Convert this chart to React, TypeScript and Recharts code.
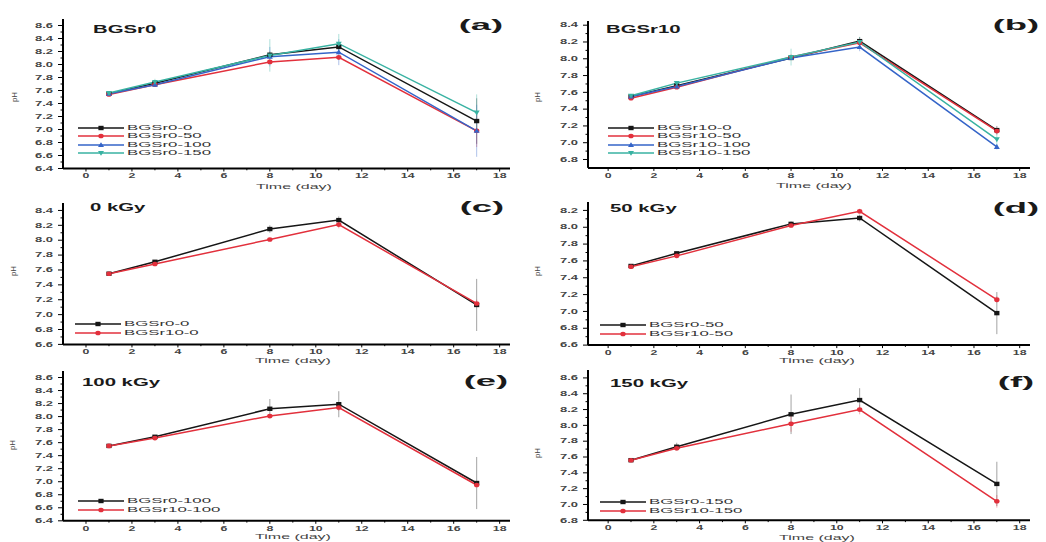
import { LineChart, Line, XAxis, YAxis, ErrorBar } from 'recharts'

const DAYS = [1, 3, 8, 11, 17]
const X_TICKS = [0, 2, 4, 6, 8, 10, 12, 14, 16, 18]

// pH readings per sample
const BGSR0_0 = [7.55, 7.71, 8.15, 8.27, 7.13]
const BGSR0_50 = [7.54, 7.69, 8.04, 8.11, 6.98]
const BGSR0_100 = [7.55, 7.69, 8.12, 8.19, 6.98]
const BGSR0_150 = [7.56, 7.73, 8.14, 8.32, 7.26]
const BGSR10_0 = [7.55, 7.68, 8.01, 8.21, 7.15]
const BGSR10_50 = [7.53, 7.66, 8.02, 8.19, 7.14]
const BGSR10_100 = [7.55, 7.67, 8.01, 8.14, 6.95]
const BGSR10_150 = [7.56, 7.71, 8.02, 8.2, 7.04]

// standard deviations
const ERR_BGSR0_0 = [0.01, 0.02, 0.05, 0.05, 0.35]
const ERR_BGSR0_50 = [0.01, 0.02, 0.03, 0.04, 0.25]
const ERR_BGSR0_100 = [0.01, 0.02, 0.15, 0.2, 0.4]
const ERR_BGSR0_150 = [0.01, 0.05, 0.25, 0.15, 0.28]
const ERR_BGSR10_0 = [0.01, 0.02, 0.02, 0.05, 0.05]
const ERR_BGSR10_50 = [0.01, 0.02, 0.02, 0.03, 0.04]
const ERR_BGSR10_100 = [0.01, 0.01, 0.02, 0.05, 0.03]
const ERR_BGSR10_150 = [0.01, 0.02, 0.1, 0.06, 0.08]

const TICKS_A = [6.4, 6.6, 6.8, 7.0, 7.2, 7.4, 7.6, 7.8, 8.0, 8.2, 8.4, 8.6]
const TICKS_B = [6.8, 7.0, 7.2, 7.4, 7.6, 7.8, 8.0, 8.2, 8.4]
const TICKS_C = [6.6, 6.8, 7.0, 7.2, 7.4, 7.6, 7.8, 8.0, 8.2, 8.4]
const TICKS_D = [6.6, 6.8, 7.0, 7.2, 7.4, 7.6, 7.8, 8.0, 8.2]
const TICKS_E = [6.4, 6.6, 6.8, 7.0, 7.2, 7.4, 7.6, 7.8, 8.0, 8.2, 8.4, 8.6]
const TICKS_F = [6.8, 7.0, 7.2, 7.4, 7.6, 7.8, 8.0, 8.2, 8.4, 8.6]

const BLACK = '#161616'
const RED = '#e2303c'
const BLUE = '#3464c8'
const TEAL = '#38b2a2'
const FONT = '"Liberation Sans", Arial, sans-serif'

type Shape = 'square' | 'circle' | 'up' | 'down'
interface Series { name: string; values: number[]; errors: number[] }
interface PanelLine { s: Series; color: string; shape: Shape }

const S = {
  r0_0: { name: 'BGSr0-0', values: BGSR0_0, errors: ERR_BGSR0_0 },
  r0_50: { name: 'BGSr0-50', values: BGSR0_50, errors: ERR_BGSR0_50 },
  r0_100: { name: 'BGSr0-100', values: BGSR0_100, errors: ERR_BGSR0_100 },
  r0_150: { name: 'BGSr0-150', values: BGSR0_150, errors: ERR_BGSR0_150 },
  r10_0: { name: 'BGSr10-0', values: BGSR10_0, errors: ERR_BGSR10_0 },
  r10_50: { name: 'BGSr10-50', values: BGSR10_50, errors: ERR_BGSR10_50 },
  r10_100: { name: 'BGSr10-100', values: BGSR10_100, errors: ERR_BGSR10_100 },
  r10_150: { name: 'BGSr10-150', values: BGSR10_150, errors: ERR_BGSR10_150 },
}

const TS = 5 // tick length
const TM = 5 // tick margin

const PANELS = [
  {
    tag: '(a)', title: 'BGSr0', majors: TICKS_A, domain: [6.4, 8.7], col: 0, plotTop: 18.5, plotBottom: 168,
    lines: [
      { s: S.r0_0, color: BLACK, shape: 'square' }, { s: S.r0_50, color: RED, shape: 'circle' },
      { s: S.r0_100, color: BLUE, shape: 'up' }, { s: S.r0_150, color: TEAL, shape: 'down' },
    ],
    titlePos: [93, 29], tagPos: [481, 25], phPos: [15, 97], timePos: [294, 187], legend: [78, 128, 8.3],
  },
  {
    tag: '(b)', title: 'BGSr10', majors: TICKS_B, domain: [6.7, 8.45], col: 1, plotTop: 20.8, plotBottom: 167.7,
    lines: [
      { s: S.r10_0, color: BLACK, shape: 'square' }, { s: S.r10_50, color: RED, shape: 'circle' },
      { s: S.r10_100, color: BLUE, shape: 'up' }, { s: S.r10_150, color: TEAL, shape: 'down' },
    ],
    titlePos: [606, 29], tagPos: [1016, 25], phPos: [538, 97], timePos: [814, 186], legend: [608, 128, 8.4],
  },
  {
    tag: '(c)', title: '0 kGy', majors: TICKS_C, domain: [6.6, 8.5], col: 0, plotTop: 202.6, plotBottom: 344,
    lines: [{ s: S.r0_0, color: BLACK, shape: 'square' }, { s: S.r10_0, color: RED, shape: 'circle' }],
    titlePos: [90, 207], tagPos: [482, 207], phPos: [14, 271], timePos: [293, 361], legend: [75, 324, 9],
  },
  {
    tag: '(d)', title: '50 kGy', majors: TICKS_D, domain: [6.6, 8.3], col: 1, plotTop: 201.6, plotBottom: 344.7,
    lines: [{ s: S.r0_50, color: BLACK, shape: 'square' }, { s: S.r10_50, color: RED, shape: 'circle' }],
    titlePos: [610, 208], tagPos: [1016, 208], phPos: [538, 271], timePos: [817, 361], legend: [600, 325, 9],
  },
  {
    tag: '(e)', title: '100 kGy', majors: TICKS_E, domain: [6.4, 8.7], col: 0, plotTop: 371.2, plotBottom: 521,
    lines: [{ s: S.r0_100, color: BLACK, shape: 'square' }, { s: S.r10_100, color: RED, shape: 'circle' }],
    titlePos: [82, 382], tagPos: [486, 381], phPos: [13, 445], timePos: [293, 537], legend: [78, 501, 9],
  },
  {
    tag: '(f)', title: '150 kGy', majors: TICKS_F, domain: [6.8, 8.7], col: 1, plotTop: 370.4, plotBottom: 520.7,
    lines: [{ s: S.r0_150, color: BLACK, shape: 'square' }, { s: S.r10_150, color: RED, shape: 'circle' }],
    titlePos: [610, 383], tagPos: [1016, 382], phPos: [538, 453], timePos: [817, 538], legend: [600, 502, 8.5],
  },
]

function withMinors(majors: number[]) {
  const out: number[] = []
  majors.forEach((v, i) => {
    out.push(v)
    if (i < majors.length - 1) out.push((v + majors[i + 1]) / 2)
  })
  return out
}

const isMajor = (majors: number[], v: number) => majors.some(m => Math.abs(m - v) < 1e-6)

function Marker({ cx, cy, color, shape }: { cx: number; cy: number; color: string; shape: Shape }) {
  if (cx == null || cy == null) return <g />
  if (shape === 'square') return <rect x={cx - 2.6} y={cy - 2.2} width={5.2} height={4.4} fill={color} />
  if (shape === 'circle') return <ellipse cx={cx} cy={cy} rx={2.7} ry={2.3} fill={color} />
  if (shape === 'up') return <polygon points={`${cx},${cy - 2.8} ${cx + 3},${cy + 2} ${cx - 3},${cy + 2}`} fill={color} />
  return <polygon points={`${cx},${cy + 2.8} ${cx + 3},${cy - 2} ${cx - 3},${cy - 2}`} fill={color} />
}

function YTick({ x, y, payload, majors }: any) {
  const v = payload.value
  const major = isMajor(majors, v)
  return (
    <g>
      <line x1={x + TM + (major ? 0 : 2.5)} x2={x + TM + TS} y1={y} y2={y} stroke="#000" strokeWidth={1} />
      {major && (
        <text
          x={x} y={y} textAnchor="end" dominantBaseline="central" fontSize={6.5} fontWeight={700} fill="#444"
          fontFamily={FONT}
          transform={`translate(${x} ${y}) scale(2 1) translate(${-x} ${-y})`}
        >
          {v.toFixed(1)}
        </text>
      )}
    </g>
  )
}

function XTick({ x, y, payload }: any) {
  const v = payload.value
  const major = X_TICKS.includes(v)
  const axisY = y - 3 - 2
  return (
    <g>
      <line x1={x} x2={x} y1={axisY} y2={axisY + (major ? 3 : 1.8)} stroke="#000" strokeWidth={1} />
      {major && (
        <text
          x={x} y={y} textAnchor="middle" dominantBaseline="hanging" fontSize={6.5} fontWeight={700} fill="#444"
          fontFamily={FONT}
          transform={`translate(${x} ${y}) scale(1.9 1) translate(${-x} ${-y})`}
        >
          {v}
        </text>
      )}
    </g>
  )
}

function Txt({ x, y, text, size, weight = 400, sx = 2, align = 'left', rotate = false, color = '#1a1a1a' }: any) {
  const t = align === 'center'
    ? `translate(-50%, -50%) ${rotate ? 'rotate(-90deg)' : ''} scaleX(${sx})`
    : `translateY(-50%) scaleX(${sx})`
  return (
    <div
      style={{
        position: 'absolute', left: x, top: y, fontSize: size, fontWeight: weight, lineHeight: 1,
        whiteSpace: 'nowrap', color, transform: t,
        transformOrigin: align === 'center' ? 'center center' : 'left center',
      }}
    >
      {text}
    </div>
  )
}

function Panel({ p }: { p: any }) {
  const left = p.col === 0 ? 0 : 520
  const width = p.col === 0 ? 520 : 526
  const top = p.plotTop - 4
  const xAxisH = 22
  const height = p.plotBottom - top + xAxisH
  const lines: PanelLine[] = p.lines

  const data = DAYS.map((d, i) => {
    const row: Record<string, number> = { day: d }
    lines.forEach((l, j) => {
      row['v' + j] = l.s.values[i]
      row['e' + j] = l.s.errors[i]
    })
    return row
  })

  const [lx, ly, ldy] = p.legend

  return (
    <>
      <div style={{ position: 'absolute', left, top, width, height }}>
        <LineChart
          width={width} height={height} data={data}
          margin={{ top: 4, right: p.col === 0 ? 10 : 16, bottom: 0, left: p.col === 0 ? 13 : 18 }}
        >
          <XAxis
            type="number" dataKey="day" domain={p.col === 0 ? [-1, 18.45] : [-0.88, 18.45]} allowDataOverflow
            ticks={withMinors(X_TICKS)} interval={0} height={xAxisH}
            axisLine={{ stroke: '#000', strokeWidth: 2 }} tickLine={false} tickSize={3} tickMargin={2}
            tick={(props: any) => <XTick {...props} />}
          />
          <YAxis
            type="number" domain={p.domain} allowDataOverflow ticks={withMinors(p.majors)} interval={0} width={50}
            axisLine={{ stroke: '#000', strokeWidth: 2 }} tickLine={false} tickSize={TS} tickMargin={TM}
            tick={(props: any) => <YTick {...props} majors={p.majors} />}
          />
          {lines.map((l, j) => (
            <Line
              key={l.s.name} type="linear" dataKey={'v' + j} stroke={l.color} strokeWidth={1.5}
              isAnimationActive={false}
              dot={(dp: any) => <Marker key={dp.index} cx={dp.cx} cy={dp.cy} color={l.color} shape={l.shape} />}
            >
              <ErrorBar dataKey={'e' + j} width={0} stroke={l.color} strokeOpacity={0.4} strokeWidth={1} direction="y" />
            </Line>
          ))}
        </LineChart>
      </div>
      <Txt x={p.titlePos[0]} y={p.titlePos[1]} text={p.title} size={11} weight={700} sx={1.85} />
      <Txt x={p.tagPos[0]} y={p.tagPos[1]} text={p.tag} size={14} weight={700} sx={2.6} align="center" />
      <Txt x={p.phPos[0]} y={p.phPos[1]} text="pH" size={8} sx={1} align="center" rotate color="#444" />
      <Txt x={p.timePos[0]} y={p.timePos[1]} text="Time (day)" size={8} sx={2} align="center" color="#444" />
      {lines.map((l, j) => (
        <div key={l.s.name} style={{ position: 'absolute', left: lx, top: ly + j * ldy - 4, height: 8 }}>
          <svg width={46} height={8} style={{ position: 'absolute', left: 0, top: 0 }}>
            <line x1={0} x2={46} y1={4} y2={4} stroke={l.color} strokeWidth={1.5} />
            <Marker cx={23} cy={4} color={l.color} shape={l.shape} />
          </svg>
          <Txt x={49} y={4} text={l.s.name} size={8} sx={2.1} color="#333" />
        </div>
      ))}
    </>
  )
}

export default function App() {
  return (
    <div
      style={{
        position: 'absolute', left: 0, top: 0, width: 1046, height: 542, overflow: 'hidden',
        background: '#fff', fontFamily: FONT,
      }}
    >
      {PANELS.map(p => <Panel key={p.tag} p={p} />)}
    </div>
  )
}
